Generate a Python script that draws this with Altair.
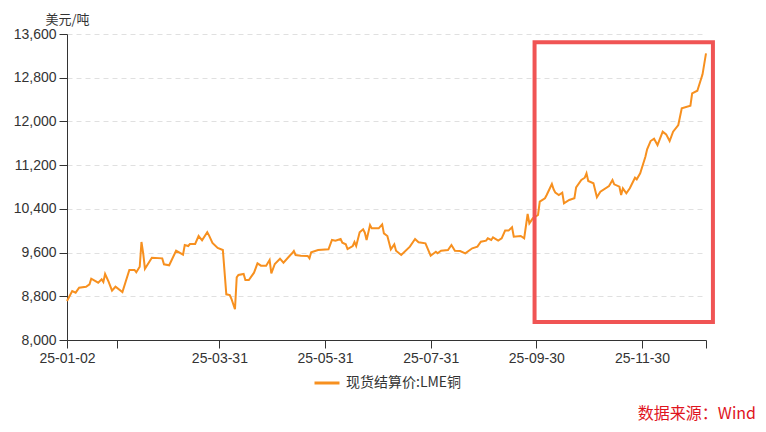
import altair as alt
import pandas as pd

# ---------------- data ----------------
dates = [
    "2025-01-02", "2025-01-05", "2025-01-07", "2025-01-09", "2025-01-13", "2025-01-15", "2025-01-16",
    "2025-01-20", "2025-01-22", "2025-01-23", "2025-01-24", "2025-01-26", "2025-01-28", "2025-01-30",
    "2025-02-03", "2025-02-07", "2025-02-10", "2025-02-11", "2025-02-13", "2025-02-14", "2025-02-15",
    "2025-02-16", "2025-02-20", "2025-02-26", "2025-02-27", "2025-03-02", "2025-03-06", "2025-03-10",
    "2025-03-11", "2025-03-13", "2025-03-14", "2025-03-17", "2025-03-19", "2025-03-21", "2025-03-24",
    "2025-03-25", "2025-03-27", "2025-03-30", "2025-04-02", "2025-04-04", "2025-04-06", "2025-04-07",
    "2025-04-09", "2025-04-10", "2025-04-11", "2025-04-14", "2025-04-15", "2025-04-17", "2025-04-20",
    "2025-04-22", "2025-04-24", "2025-04-27", "2025-04-29", "2025-04-30", "2025-05-02", "2025-05-05",
    "2025-05-07", "2025-05-11", "2025-05-12", "2025-05-13", "2025-05-14", "2025-05-17", "2025-05-21",
    "2025-05-22", "2025-05-23", "2025-05-27", "2025-06-02", "2025-06-04", "2025-06-06", "2025-06-09",
    "2025-06-10", "2025-06-12", "2025-06-13", "2025-06-16", "2025-06-17", "2025-06-18", "2025-06-20",
    "2025-06-22", "2025-06-23", "2025-06-24", "2025-06-26", "2025-06-27", "2025-07-01", "2025-07-03",
    "2025-07-04", "2025-07-06", "2025-07-08", "2025-07-10", "2025-07-11", "2025-07-14", "2025-07-19",
    "2025-07-22", "2025-07-24", "2025-07-28", "2025-07-31", "2025-08-03", "2025-08-04", "2025-08-06",
    "2025-08-10", "2025-08-12", "2025-08-14", "2025-08-17", "2025-08-20", "2025-08-24", "2025-08-27",
    "2025-08-29", "2025-09-01", "2025-09-02", "2025-09-04", "2025-09-05", "2025-09-08", "2025-09-10",
    "2025-09-12", "2025-09-14", "2025-09-16", "2025-09-17", "2025-09-21", "2025-09-23", "2025-09-25",
    "2025-09-26", "2025-09-28", "2025-10-01", "2025-10-02", "2025-10-05", "2025-10-06", "2025-10-09",
    "2025-10-10", "2025-10-11", "2025-10-13", "2025-10-15", "2025-10-16", "2025-10-19", "2025-10-22",
    "2025-10-23", "2025-10-26", "2025-10-28", "2025-10-29", "2025-10-30", "2025-11-02", "2025-11-04",
    "2025-11-06", "2025-11-11", "2025-11-13", "2025-11-14", "2025-11-17", "2025-11-18", "2025-11-19",
    "2025-11-21", "2025-11-23", "2025-11-26", "2025-11-27", "2025-11-29", "2025-12-02", "2025-12-03",
    "2025-12-05", "2025-12-07", "2025-12-09", "2025-12-12", "2025-12-14", "2025-12-16", "2025-12-18",
    "2025-12-21", "2025-12-23", "2025-12-28", "2025-12-29", "2026-01-01", "2026-01-04", "2026-01-06",
]
prices = [
    8714, 8897, 8866, 8957, 8975, 9019, 9121,
    9048, 9110, 9061, 9208, 9067, 8902, 8975,
    8878, 9281, 9281, 9239, 9341, 9793, 9587,
    9305, 9506, 9494, 9385, 9367, 9634, 9561,
    9739, 9720, 9757, 9757, 9903, 9825, 9971,
    9915, 9775, 9684, 9647, 8836, 8823, 8750,
    8562, 9147, 9190, 9208, 9098, 9098, 9232,
    9403, 9360, 9360, 9464, 9220, 9391, 9488,
    9415, 9556, 9586, 9629, 9556, 9543, 9537,
    9495, 9605, 9647, 9659, 9830, 9818, 9849,
    9781, 9751, 9665, 9720, 9793, 9720, 9971,
    10026, 9964, 9830, 10104, 10043, 10043, 10116,
    9951, 9903, 9659, 9751, 9634, 9556, 9708,
    9849, 9788, 9769, 9543, 9616, 9587, 9634,
    9647, 9739, 9634, 9629, 9586, 9678, 9708,
    9800, 9818, 9861, 9830, 9879, 9818, 9861,
    10002, 10002, 10063, 9891, 9903, 9861, 10306,
    10135, 10227, 10288, 10531, 10593, 10654, 10855,
    10758, 10697, 10654, 10697, 10502, 10562, 10593,
    10794, 10928, 10970, 11051, 10910, 10868, 10612,
    10714, 10818, 10928, 10849, 10806, 10654, 10776,
    10685, 10776, 10970, 10940, 11050, 11355, 11490,
    11641, 11684, 11568, 11812, 11763, 11641, 11812,
    11934, 12239, 12288, 12514, 12562, 12862, 13246,
]
series_name = "现货结算价:LME铜"

y_ticks = [8000, 8800, 9600, 10400, 11200, 12000, 12800, 13600]
y_domain = [8000, 13600]
x_domain = ["2025-01-02", "2026-01-06"]
x_tick_dates = ["2025-01-02", "2025-01-31", "2025-03-31", "2025-05-31",
                "2025-07-31", "2025-09-30", "2025-11-30", "2026-01-06"]
x_hidden_labels = ["25-01-31", "26-01-06"]

highlight_start = ["2025-09-29"]
highlight_end = ["2026-01-10"]
highlight_low = [8330]
highlight_high = [13450]

unit_label = "美元/吨"
source_label = "数据来源：Wind"

# ---------------- chart ----------------
def dt(s):
    y, m, d = (int(p) for p in s.split("-"))
    return alt.DateTime(year=y, month=m, date=d, utc=True)

LINE_COLOR = "#F7901F"
TEXT_COLOR = "#333333"
NUM_FONT = "Liberation Sans"
CJK_FONT = "Noto Sans CJK SC"

df = pd.DataFrame({"date": dates, "price": prices, "series": [series_name] * len(dates)})
box = pd.DataFrame({"start": highlight_start, "end": highlight_end,
                    "low": highlight_low, "high": highlight_high})
src = pd.DataFrame({"label": [source_label]})

hidden = ",".join("'" + s + "'" for s in x_hidden_labels)
label_expr = (f"indexof([{hidden}], utcFormat(datum.value, '%y-%m-%d')) >= 0 ? '' : "
              "utcFormat(datum.value, '%y-%m-%d')")

x_scale = alt.Scale(type="utc", domain=[dt(x_domain[0]), dt(x_domain[1])])
y_scale = alt.Scale(domain=y_domain, nice=False, zero=False)

x_axis = alt.Axis(
    values=[dt(s) for s in x_tick_dates], labelExpr=label_expr, title=None,
    grid=False, tickSize=8, labelPadding=3, domainColor=TEXT_COLOR, tickColor=TEXT_COLOR,
    labelColor=TEXT_COLOR, labelFontSize=14, labelFont=NUM_FONT, labelFlush=False,
    labelOverlap=False, domainWidth=1, tickWidth=1,
)
y_axis = alt.Axis(
    values=y_ticks, format=",d", tickSize=8, labelPadding=3, domainColor=TEXT_COLOR,
    tickColor=TEXT_COLOR, labelColor=TEXT_COLOR, labelFontSize=14, labelFont=NUM_FONT,
    grid=True, gridColor="#E0E0E0", gridDash=[5, 4], gridWidth=1,
    title=unit_label, titleAngle=0, titleAlign="center", titleBaseline="alphabetic",
    titleX=0, titleY=-11, titleFont=CJK_FONT, titleFontSize=13, titleFontWeight="normal",
    titleColor=TEXT_COLOR, labelOverlap=False,
)

line = alt.Chart(df).mark_line(strokeWidth=2).encode(
    x=alt.X("date:T", scale=x_scale, axis=x_axis),
    y=alt.Y("price:Q", scale=y_scale, axis=y_axis),
    color=alt.Color(
        "series:N",
        scale=alt.Scale(domain=[series_name], range=[LINE_COLOR]),
        legend=alt.Legend(
            orient="none", legendX=246, legendY=335, title=None, padding=0,
            symbolType="stroke", symbolSize=625, symbolStrokeWidth=3,
            labelFontSize=14, labelFont=CJK_FONT, labelColor=TEXT_COLOR, labelOffset=5,
        ),
    ),
)

rect = alt.Chart(box).mark_rect(
    fillOpacity=0, stroke="#F05454", strokeWidth=4, clip=False
).encode(
    x=alt.X("start:T", scale=x_scale),
    x2="end:T",
    y=alt.Y("low:Q", scale=y_scale),
    y2="high:Q",
)

source = alt.Chart(src).mark_text(
    align="right", baseline="middle", fontSize=16, font=CJK_FONT, color="#E0141E"
).encode(
    text="label:N",
    x=alt.value(689),
    y=alt.value(380),
)

chart = alt.layer(line, rect, source).properties(
    width=639, height=306,
    autosize=alt.AutoSizeParams(type="none"),
    padding={"left": 59, "top": 26, "right": 52, "bottom": 84},
    background="white",
).configure_view(strokeWidth=0)

chart.save("out.html", embed_options={"renderer": "svg", "actions": False})
